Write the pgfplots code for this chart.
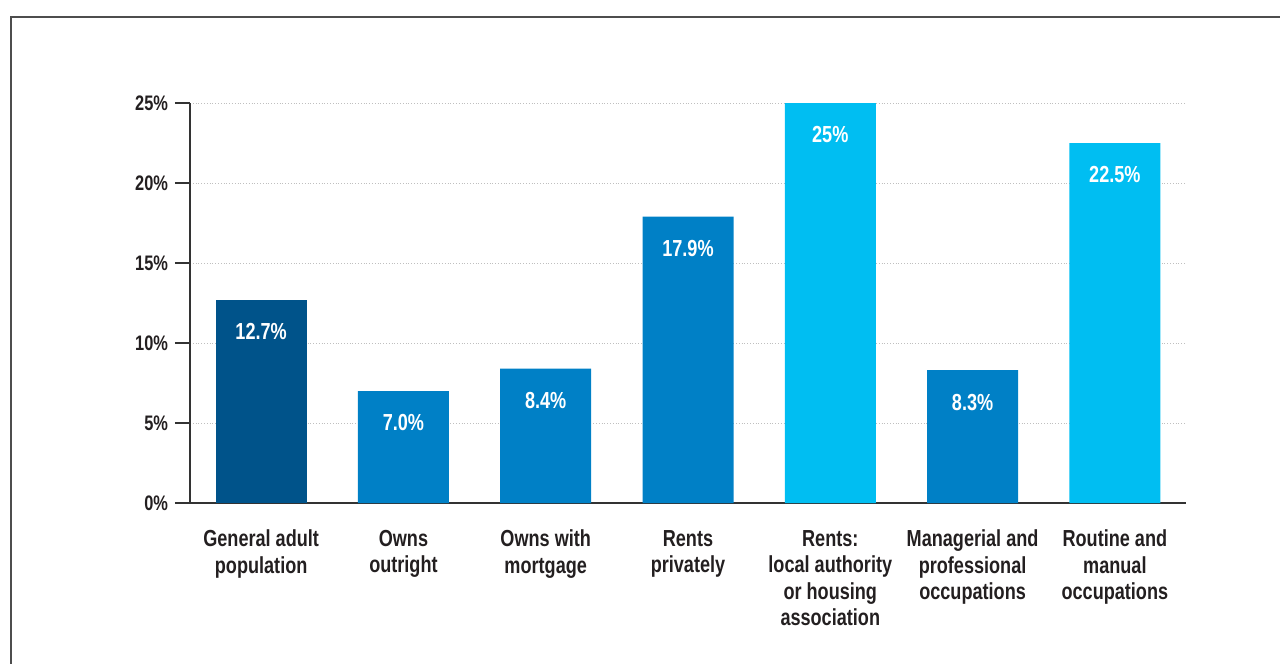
\documentclass[border=0pt]{standalone}
\usepackage{pgfplots}
\pgfplotsset{compat=1.18}
\usepackage{fontspec}
\setmainfont{Liberation Sans}[FakeStretch=0.78, UprightFont=*-Bold]
\definecolor{txt}{HTML}{231F20}
\definecolor{dkblue}{HTML}{00538A}
\definecolor{mdblue}{HTML}{0080C6}
\definecolor{ltblue}{HTML}{00BEF2}
\definecolor{axgrey}{HTML}{333333}
\definecolor{frame}{HTML}{4D4D4D}
\begin{document}
\begin{tikzpicture}
\path[use as bounding box] (-95pt,-80.5pt) rectangle (545pt,251.5pt);
\draw[frame, line width=1pt] (-89.5pt,-82pt) -- (-89.5pt,243pt) -- (546pt,243pt);
\begin{axis}[
  at={(0,0)}, anchor=south west,
  scale only axis, width=498pt, height=200pt,
  xmin=-0.5, xmax=6.5, ymin=0, ymax=25,
  axis x line*=bottom, axis y line*=left,
  axis line style={axgrey, line width=0.75pt},
  every tick/.style={axgrey, line width=0.75pt},
  tick align=outside,
  ytick={0,5,10,15,20,25},
  yticklabels={0\%,5\%,10\%,15\%,20\%,25\%},
  major tick length=7.5pt,
  xtick={0,1,2,3,4,5,6},
  xticklabels={General adult\\population, Owns\\outright, Owns with\\mortgage, Rents\\privately, Rents:\\local authority\\or housing\\association, Managerial and\\professional\\occupations, Routine and\\manual\\occupations},
  x tick style={draw=none},
  minor xtick={-0.5,0.5,1.5,2.5,3.5,4.5,5.5,6.5},
  minor x tick style={axgrey, line width=0.75pt},
  minor tick length=6pt,
  x tick label style={align=center, font=\fontsize{11.6}{13.25}\selectfont, text=txt, anchor=north, yshift=-2.5pt},
  y tick label style={font=\fontsize{10.5}{12}\selectfont, text=txt},
  ymajorgrids,
  major grid style={densely dotted, black!25, line width=0.5pt},
  ybar, bar width=45.5pt,
  nodes near coords,
  point meta=explicit symbolic,
  every node near coord/.append style={anchor=center, yshift=-16pt, text=white, font=\fontsize{11.6}{13}\selectfont},
  clip=false,
]
\addplot[fill=dkblue, draw=none, bar shift=0pt] coordinates {(0,12.7) [12.7\%]};
\addplot[fill=mdblue, draw=none, bar shift=0pt] coordinates {(1,7.0) [7.0\%] (2,8.4) [8.4\%] (3,17.9) [17.9\%] (5,8.3) [8.3\%]};
\addplot[fill=ltblue, draw=none, bar shift=0pt] coordinates {(4,25) [25\%] (6,22.5) [22.5\%]};
\end{axis}
\end{tikzpicture}
\end{document}
